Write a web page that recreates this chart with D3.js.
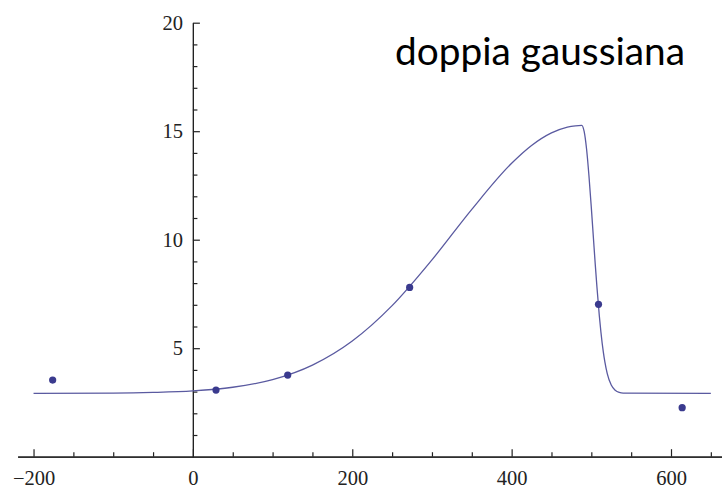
<!doctype html>
<html>
<head>
<meta charset="UTF-8">
<title>doppia gaussiana</title>
<script src="https://d3js.org/d3.v7.min.js"></script>
<style>
    body { margin: 0; background: #fff; }
    .tick text { font-family: "Liberation Serif", "Times New Roman", serif; font-size: 20.5px; fill: #222; }
    .axis path, .axis line { stroke: #222; stroke-width: 1.2; }
</style>
</head>
<body>
<script>
// fitted curve
var curveX = [-200, -100, -50, 0, 50, 100, 150, 200, 250, 300, 350, 400, 425, 450, 470, 480, 488, 491, 494, 497, 500, 503, 505, 507, 510, 512, 515, 517, 520, 525, 530, 535, 540, 650];
var curveY = [2.92, 2.93, 2.96, 3.03, 3.20, 3.55, 4.22, 5.33, 6.96, 9.07, 11.40, 13.52, 14.34, 14.92, 15.19, 15.25, 15.27, 14.99, 14.19, 12.96, 11.48, 9.88, 8.83, 7.84, 6.51, 5.76, 4.84, 4.37, 3.83, 3.30, 3.06, 2.96, 2.93, 2.92];

// data points
var pointX = [-176, 29, 119, 272, 509, 614];
var pointY = [3.53, 3.07, 3.76, 7.80, 7.02, 2.26];

var xTicks = [-200, 0, 200, 400, 600];
var xMinor = [-150, -100, -50, 50, 100, 150, 250, 300, 350, 450, 500, 550, 650];
var yTicks = [5, 10, 15, 20];
var yMinor = [1, 2, 3, 4, 6, 7, 8, 9, 11, 12, 13, 14, 16, 17, 18, 19];

var title = "doppia gaussiana";

var W = 722, H = 489;
var svg = d3.select("body").append("svg").attr("width", W).attr("height", H);

var x = d3.scaleLinear().domain([-220, 664]).range([17.6, 722]);
var y = d3.scaleLinear().domain([0, 20]).range([456.7, 22.7]);

// x axis, ticks pointing up
svg.append("g").attr("class", "axis")
    .attr("transform", "translate(0," + y(0) + ")")
    .call(d3.axisBottom(x).tickValues(xMinor).tickSize(-4.5).tickSizeOuter(0).tickFormat(""));
svg.append("g").attr("class", "axis")
    .attr("transform", "translate(0," + y(0) + ")")
    .call(d3.axisBottom(x).tickValues(xTicks).tickSize(-7.5).tickSizeOuter(0).tickPadding(14)
        .tickFormat(function(d) { return d < 0 ? "\u2212" + Math.abs(d) : d; }));

// y axis at x=0, ticks pointing right
svg.append("g").attr("class", "axis")
    .attr("transform", "translate(" + x(0) + ",0)")
    .call(d3.axisLeft(y).tickValues(yMinor).tickSize(-4.5).tickSizeOuter(0).tickFormat(""));
svg.append("g").attr("class", "axis")
    .attr("transform", "translate(" + x(0) + ",0)")
    .call(d3.axisLeft(y).tickValues(yTicks).tickSize(-7).tickSizeOuter(0).tickPadding(10));

// curve
var line = d3.line()
    .x(function(d) { return x(d[0]); })
    .y(function(d) { return y(d[1]); })
    .curve(d3.curveMonotoneX);

svg.append("path")
    .datum(d3.zip(curveX, curveY))
    .attr("fill", "none")
    .attr("stroke", "#5a5aa0")
    .attr("stroke-width", 1.3)
    .attr("d", line);

// points
svg.selectAll(".pt")
    .data(d3.zip(pointX, pointY))
    .enter().append("circle")
    .attr("class", "pt")
    .attr("cx", function(d) { return x(d[0]); })
    .attr("cy", function(d) { return y(d[1]); })
    .attr("r", 3.6)
    .attr("fill", "#3a3a8e");

// title
var t = svg.append("text")
    .attr("x", 395)
    .attr("y", 65)
    .attr("font-family", "Lato, 'Open Sans', sans-serif")
    .attr("font-size", 30)
    .attr("fill", "#000")
    .text(title);
var tw = t.node().getComputedTextLength();
t.attr("font-size", 30 * 290 / tw);
</script>
</body>
</html>
